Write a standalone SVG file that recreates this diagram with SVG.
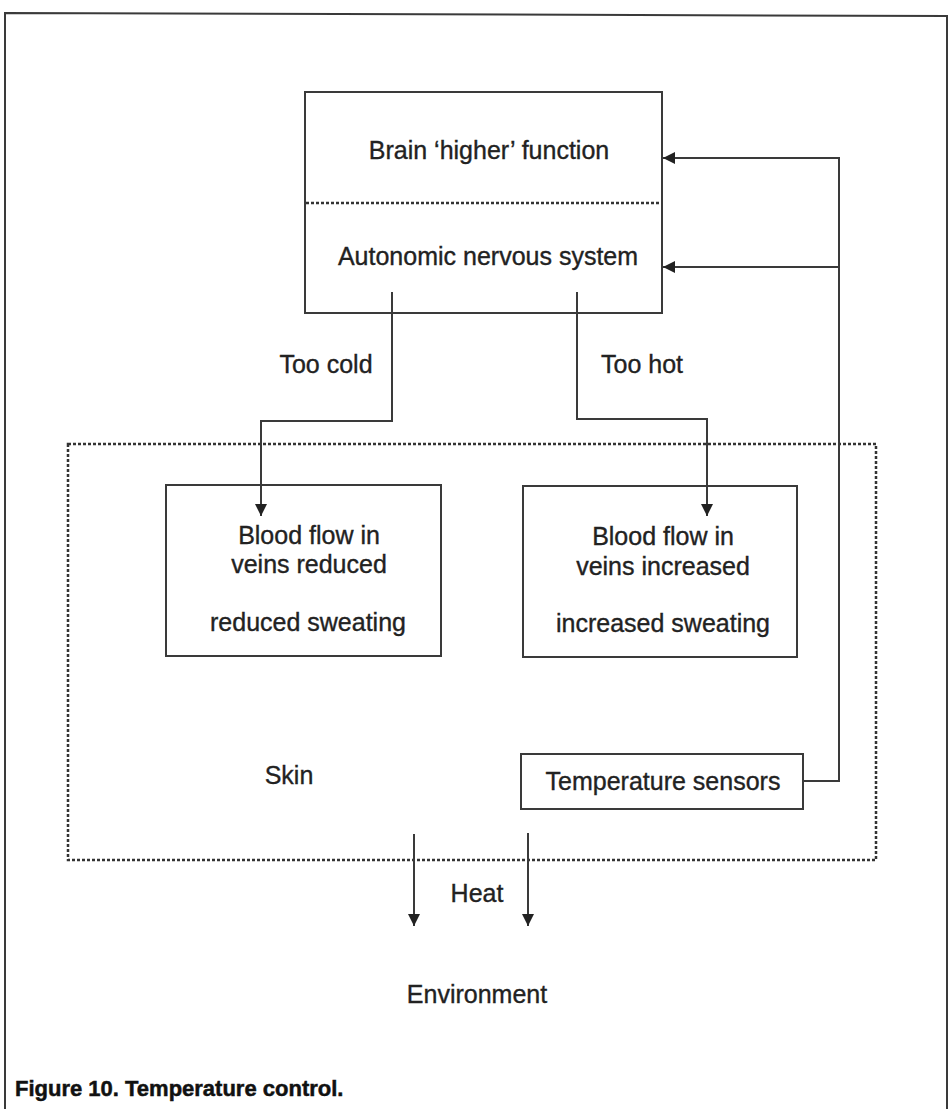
<svg xmlns="http://www.w3.org/2000/svg" width="952" height="1109" viewBox="0 0 952 1109">
<style>
.box{fill:none;stroke:#3a3a3a;stroke-width:2}
.dot{fill:none;stroke:#333333;stroke-width:2.5;stroke-dasharray:3 2}
.ln{fill:none;stroke:#3a3a3a;stroke-width:2}
.t{font-family:"Liberation Sans",Arial,sans-serif;font-size:25px;fill:#222222;stroke:#222222;stroke-width:0.35;text-anchor:middle}
.cap{font-family:"Liberation Sans",Arial,sans-serif;font-size:22px;font-weight:bold;fill:#111111;stroke:#111111;stroke-width:0.5}
</style>
<defs>
<marker id="ah" viewBox="0 0 10 10" refX="10" refY="5" markerWidth="12" markerHeight="12" markerUnits="userSpaceOnUse" orient="auto">
<path d="M0,0 L10,5 L0,10 Z" fill="#222222"/>
</marker>
</defs>
<rect width="952" height="1109" fill="#ffffff"/>
<g id="frame">
<path class="box" d="M5,1120 V13 L947,16 V1120"/>
</g>
<g id="skin">
<rect class="dot" x="68" y="444" width="808" height="416"/>
<text class="t" x="289" y="784">Skin</text>
</g>
<g id="brain">
<rect class="box" x="305" y="92" width="357" height="221"/>
<line class="dot" x1="306" y1="203" x2="661" y2="203"/>
<text class="t" x="489" y="159">Brain ‘higher’ function</text>
<text class="t" x="488" y="265">Autonomic nervous system</text>
</g>
<g id="cold-box">
<rect class="box" x="166" y="485" width="275" height="171"/>
<text class="t" x="309" y="544">Blood flow in</text>
<text class="t" x="309" y="573">veins reduced</text>
<text class="t" x="308" y="631">reduced sweating</text>
</g>
<g id="hot-box">
<rect class="box" x="523" y="486" width="274" height="171"/>
<text class="t" x="663" y="545">Blood flow in</text>
<text class="t" x="663" y="575">veins increased</text>
<text class="t" x="663" y="632">increased sweating</text>
</g>
<g id="sensors">
<rect class="box" x="521" y="754" width="282" height="55"/>
<text class="t" x="663" y="790">Temperature sensors</text>
</g>
<g id="environment">
<text class="t" x="477" y="1003">Environment</text>
</g>
<g id="connectors">
<path class="ln" d="M392,292 V421 H261 V516" marker-end="url(#ah)"/>
<path class="ln" d="M577,292 V419 H707 V516" marker-end="url(#ah)"/>
<path class="ln" d="M803,781 H839 V158 H663" marker-end="url(#ah)"/>
<path class="ln" d="M839,267 H663" marker-end="url(#ah)"/>
<path class="ln" d="M414,834 V926" marker-end="url(#ah)"/>
<path class="ln" d="M528,833 V926" marker-end="url(#ah)"/>
<text class="t" x="326" y="373">Too cold</text>
<text class="t" x="642" y="373">Too hot</text>
<text class="t" x="477" y="902">Heat</text>
</g>
<g id="caption">
<text class="cap" x="15" y="1096">Figure 10. Temperature control.</text>
</g>
</svg>
